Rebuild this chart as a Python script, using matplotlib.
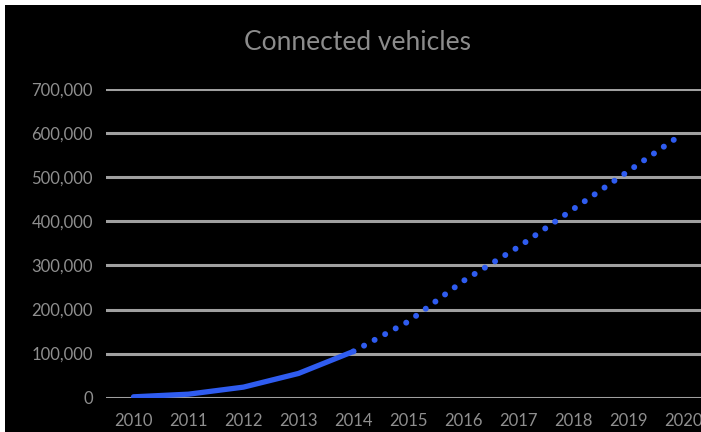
import matplotlib.pyplot as plt
from matplotlib.patches import Rectangle
from matplotlib.ticker import FuncFormatter

years = [2010, 2011, 2012, 2013, 2014, 2015, 2016, 2017, 2018, 2019, 2020]
actual_years = [2010, 2011, 2012, 2013, 2014]
actual = [2000, 8000, 24000, 55000, 105000]
forecast_years = [2014, 2015, 2016, 2017, 2018, 2019, 2020]
forecast = [105000, 173000, 265000, 342000, 428000, 514000, 600000]
yticks = [0, 100000, 200000, 300000, 400000, 500000, 600000, 700000]

plt.rcParams['font.family'] = ['Lato', 'DejaVu Sans']

fig = plt.figure(figsize=(7.01, 4.32), dpi=100, facecolor='white')
# black chart area, thin white strip on top and left
fig.patches.append(Rectangle((5 / 701, 0), 1, 1 - 5 / 432, transform=fig.transFigure,
                             facecolor='black', edgecolor='none', zorder=-10))

ax = fig.add_axes([106 / 701, 34.3 / 432, 605 / 701, (397.7 - 89) / 432])
ax.set_facecolor('black')

blue = '#2f5cf0'
ax.plot(actual_years, actual, color=blue, linewidth=3.8, solid_capstyle='round', zorder=3)
ax.plot(forecast_years, forecast, color=blue, linewidth=4.3,
        linestyle=(0, (0.01, 2.0)), dash_capstyle='round', zorder=3)

ax.set_xlim(2009.5, 2020.5)
ax.set_ylim(0, 700000)
ax.set_xticks(years)
ax.set_yticks(yticks)
ax.yaxis.set_major_formatter(FuncFormatter(lambda v, p: f'{int(v):,}'))

ax.grid(True, axis='y', color='#a0a0a0', linewidth=2.2)
ax.set_axisbelow(True)
for s in ax.spines.values():
    s.set_visible(False)

ax.tick_params(axis='both', length=0, colors='#8f8f8f', labelsize=12)
ax.tick_params(axis='y', pad=9.5)
ax.tick_params(axis='x', pad=11)

fig.text(357 / 701, 1 - 42 / 432, 'Connected vehicles', ha='center', va='center',
         color='#8c8c8c', fontsize=19)

fig.savefig('out.png', dpi=100, facecolor=fig.get_facecolor())
